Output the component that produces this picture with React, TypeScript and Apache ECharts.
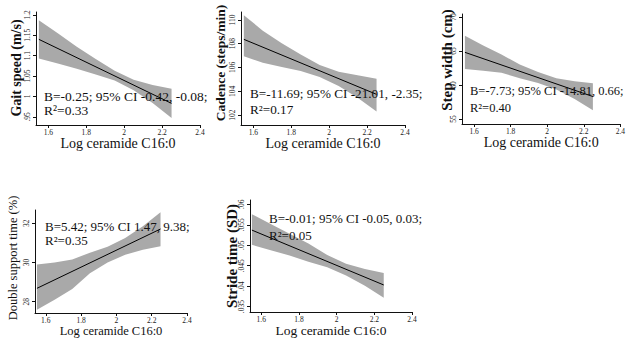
import React, { useEffect, useRef } from "react";
import * as echarts from "echarts";

// ---- data ----
const ciX = [1.55, 1.65, 1.75, 1.85, 1.95, 2.05, 2.15, 2.25];
const fitX = [1.55, 2.25];
const xTicks = [1.6, 1.8, 2, 2.2, 2.4];

const gaitUpper = [1.187, 1.155, 1.122, 1.092, 1.063, 1.041, 1.028, 1.019];
const gaitLower = [1.093, 1.081, 1.068, 1.054, 1.039, 1.015, 0.984, 0.947];
const gaitFit = [1.14, 0.983];
const gaitTicks = [0.95, 1, 1.05, 1.1, 1.15, 1.2];

const cadUpper = [110.4, 109.1, 108.05, 107.1, 106.2, 105.65, 105.35, 105.05];
const cadLower = [106.95, 106.4, 106.05, 105.7, 105.2, 104.45, 103.45, 102.3];
const cadFit = [108.37, 103.74];
const cadTicks = [102, 104, 106, 108, 110];

const stepUpper = [67.25, 65.8, 64.5, 63.0, 61.9, 61.0, 60.55, 60.25];
const stepLower = [62.35, 62.1, 61.8, 61.0, 60.3, 59.35, 57.95, 56.3];
const stepFit = [64.8, 58.3];
const stepTicks = [55, 60, 65, 70];

const dsUpper = [29.9, 30.0, 30.15, 30.5, 30.8, 31.25, 31.85, 32.56];
const dsLower = [27.58, 28.1, 28.65, 29.45, 30.0, 30.4, 30.65, 30.83];
const dsFit = [28.68, 31.71];
const dsTicks = [28, 30, 32];

const strideUpper = [0.0576, 0.0552, 0.0528, 0.0504, 0.0476, 0.0455, 0.0442, 0.0432];
const strideLower = [0.0501, 0.0488, 0.0475, 0.046, 0.0446, 0.0426, 0.0401, 0.0372];
const strideFit = [0.0537, 0.0403];
const strideTicks = [0.035, 0.04, 0.045, 0.05, 0.055, 0.06];

const xTitle = "Log ceramide C16:0";

const panels = [
  {
    yTitle: "Gait speed (m/s)", bold: true, upper: gaitUpper, lower: gaitLower, fit: gaitFit, yTicks: gaitTicks,
    stat: "B=-0.25; 95% CI -0.42, -0.08;", r2: "R²=0.33",
    grid: { left: 36, top: 12, width: 164, height: 113 }, xMin: 1.535, yMin: 0.93, yMax: 1.207,
    titlePos: [16, 68], titleSize: 14, statPos: [44, 103], statLH: 14, statSize: 13.5, xNameSize: 14,
  },
  {
    yTitle: "Cadence (steps/min)", bold: true, upper: cadUpper, lower: cadLower, fit: cadFit, yTicks: cadTicks,
    stat: "B=-11.69; 95% CI -21.01, -2.35;", r2: "R²=0.17",
    grid: { left: 241, top: 12, width: 164, height: 113 }, xMin: 1.535, yMin: 101.16, yMax: 110.67,
    titlePos: [220, 63], titleSize: 13.5, statPos: [250, 101], statLH: 16, statSize: 13.2, xNameSize: 14,
  },
  {
    yTitle: "Step width (cm)", bold: true, upper: stepUpper, lower: stepLower, fit: stepFit, yTicks: stepTicks,
    stat: "B=-7.73; 95% CI -14.81, 0.66;", r2: "R²=0.40",
    grid: { left: 462, top: 14, width: 162, height: 110 }, xMin: 1.534, yMin: 54.26, yMax: 70.44,
    titlePos: [447, 60], titleSize: 15, statPos: [470, 99.5], statLH: 17, statSize: 12.5, xNameSize: 14,
  },
  {
    yTitle: "Double support time (%)", bold: false, upper: dsUpper, lower: dsLower, fit: dsFit, yTicks: dsTicks,
    stat: "B=5.42; 95% CI 1.47, 9.38;", r2: "R²=0.35",
    grid: { left: 35, top: 210, width: 152, height: 103 }, xMin: 1.539, yMin: 27.42, yMax: 32.68,
    titlePos: [13, 258], titleSize: 12.5, statPos: [45, 233.5], statLH: 13.5, statSize: 13, xNameSize: 12.5,
  },
  {
    yTitle: "Stride time (SD)", bold: true, upper: strideUpper, lower: strideLower, fit: strideFit, yTicks: strideTicks,
    stat: "B=-0.01; 95% CI -0.05, 0.03;", r2: "R²=0.05",
    grid: { left: 250, top: 200, width: 162, height: 112 }, xMin: 1.54, yMin: 0.0337, yMax: 0.06105,
    titlePos: [232, 256], titleSize: 15, statPos: [269, 226.5], statLH: 17, statSize: 13, xNameSize: 13.5,
  },
];

const SERIF = '"Liberation Serif", "Times New Roman", serif';

const fmt = (v: number) => {
  const s = String(+Number(v).toFixed(4));
  return s.replace(/^0\./, ".");
};

export default function App() {
  const ref = useRef<HTMLDivElement>(null);
  useEffect(() => {
    if (!ref.current) return;
    const chart = echarts.init(ref.current, undefined, { renderer: "svg" });

    const grid: any[] = [];
    const xAxis: any[] = [];
    const yAxis: any[] = [];
    const series: any[] = [];
    const graphic: any[] = [];

    panels.forEach((p, i) => {
      grid.push({ ...p.grid, containLabel: false });
      xAxis.push({
        type: "value",
        gridIndex: i,
        min: p.xMin,
        max: 2.4,
        name: xTitle,
        nameLocation: "middle",
        nameGap: 10,
        nameTextStyle: { fontFamily: SERIF, fontSize: p.xNameSize, color: "#111", verticalAlign: "top" },
        axisLine: { show: true, onZero: false, lineStyle: { color: "#111", width: 1 } },
        axisTick: { show: true, length: 3, customValues: xTicks, lineStyle: { color: "#111" } },
        axisLabel: { customValues: xTicks, formatter: fmt, fontFamily: SERIF, fontSize: 7.5, color: "#222", margin: 3 },
        splitLine: { show: false },
      });
      yAxis.push({
        type: "value",
        gridIndex: i,
        min: p.yMin,
        max: p.yMax,
        axisLine: { show: true, onZero: false, lineStyle: { color: "#111", width: 1 } },
        axisTick: { show: true, length: 3, customValues: p.yTicks, lineStyle: { color: "#111" } },
        axisLabel: { customValues: p.yTicks, formatter: fmt, rotate: 90, fontFamily: SERIF, fontSize: 7.5, color: "#222", margin: 5 },
        splitLine: { show: false },
      });
      const up = p.upper, lo = p.lower;
      series.push({
        type: "custom",
        xAxisIndex: i,
        yAxisIndex: i,
        silent: true,
        data: ciX.map((x, k) => [x, lo[k], up[k]]),
        encode: { x: 0, y: [1, 2] },
        renderItem: (params: any, api: any) => {
          if (params.dataIndex !== 0) return null;
          const pts: number[][] = [];
          ciX.forEach((x, k) => pts.push(api.coord([x, up[k]])));
          for (let k = ciX.length - 1; k >= 0; k--) pts.push(api.coord([ciX[k], lo[k]]));
          return { type: "polygon", shape: { points: pts }, style: { fill: "#a9a9a9", stroke: "none" } };
        },
        z: 1,
      });
      series.push({
        type: "line",
        xAxisIndex: i,
        yAxisIndex: i,
        data: fitX.map((x, k) => [x, p.fit[k]]),
        showSymbol: false,
        symbol: "none",
        silent: true,
        lineStyle: { color: "#000", width: 1 },
        z: 3,
      });
      graphic.push({
        type: "text",
        x: p.titlePos[0],
        y: p.titlePos[1],
        rotation: Math.PI / 2,
        style: {
          text: p.yTitle,
          font: `${p.bold ? "bold " : ""}${p.titleSize}px ${SERIF}`,
          fill: "#111",
          align: "center",
          verticalAlign: "middle",
        },
        z: 10,
      });
      graphic.push({
        type: "text",
        x: p.statPos[0],
        y: p.statPos[1],
        style: {
          text: p.stat + "\n" + p.r2,
          font: `${p.statSize}px ${SERIF}`,
          lineHeight: p.statLH,
          fill: "#111",
          align: "left",
          verticalAlign: "middle",
        },
        z: 10,
      });
    });

    chart.setOption({
      animation: false,
      backgroundColor: "#fff",
      grid,
      xAxis,
      yAxis,
      series,
      graphic,
    });
    return () => chart.dispose();
  }, []);

  return (
    <div
      ref={ref}
      style={{ position: "fixed", left: 0, top: 0, width: 628, height: 340, background: "#fff" }}
    />
  );
}
